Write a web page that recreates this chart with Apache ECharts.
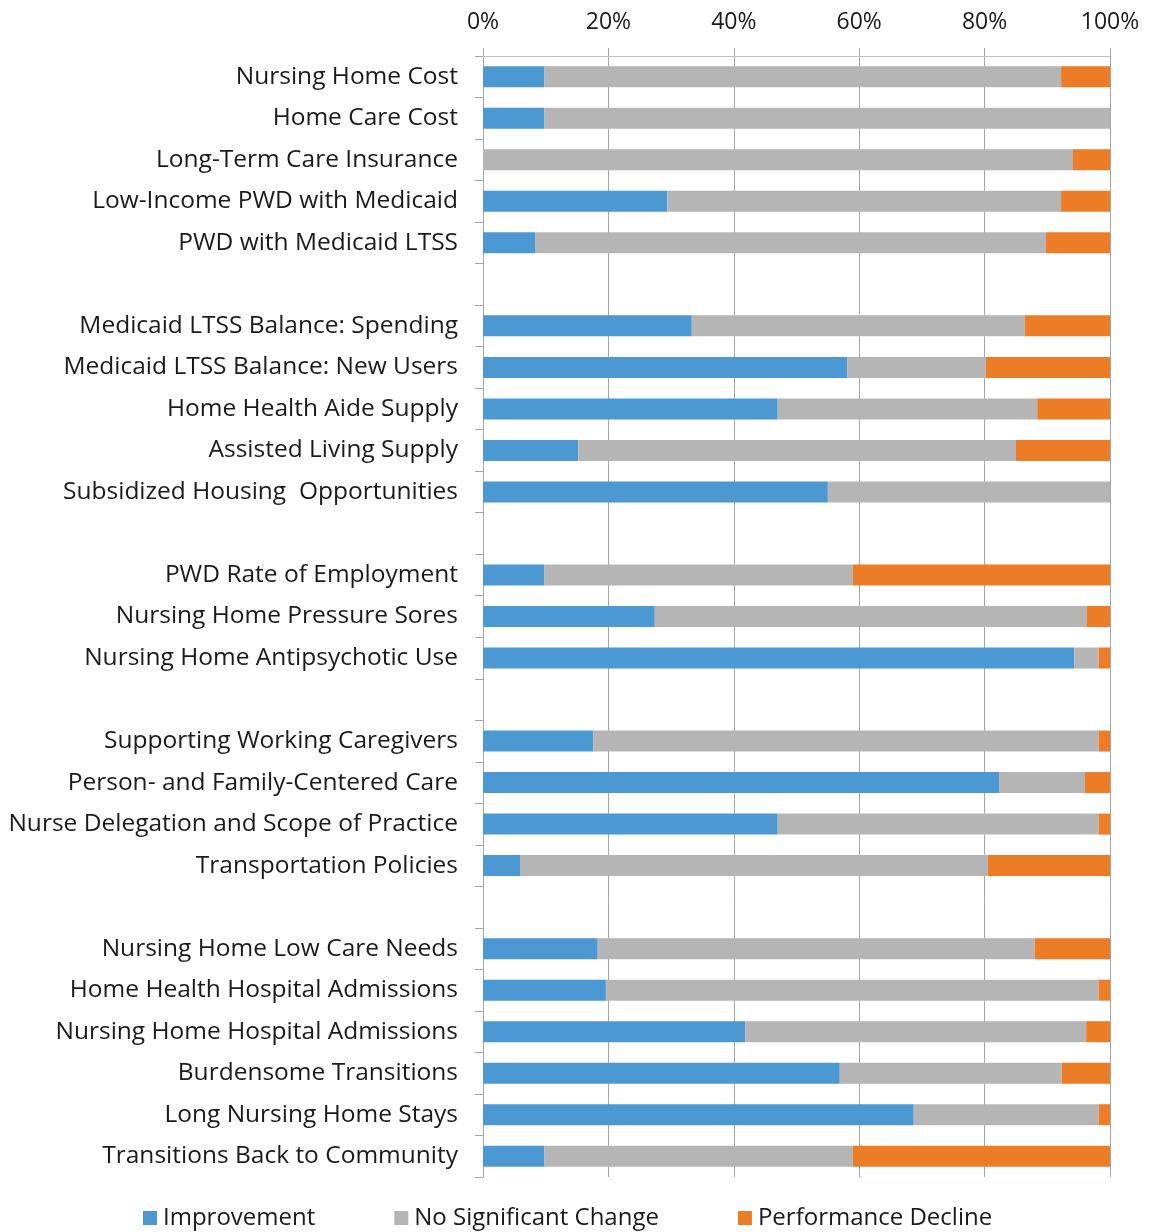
<!DOCTYPE html>
<html>
<head>
<meta charset="utf-8">
<script src="https://cdn.jsdelivr.net/npm/echarts@6/dist/echarts.min.js"></script>
<style>
html,body{margin:0;padding:0;background:#fff;}
#chart{width:1151px;height:1232px;}
</style>
</head>
<body>
<div id="chart"></div>
<script>
const categories = [
  'Nursing Home Cost','Home Care Cost','Long-Term Care Insurance','Low-Income PWD with Medicaid','PWD with Medicaid LTSS',
  ' ',
  'Medicaid LTSS Balance: Spending','Medicaid LTSS Balance: New Users','Home Health Aide Supply','Assisted Living Supply','Subsidized Housing  Opportunities',
  '  ',
  'PWD Rate of Employment','Nursing Home Pressure Sores','Nursing Home Antipsychotic Use',
  '   ',
  'Supporting Working Caregivers','Person- and Family-Centered Care','Nurse Delegation and Scope of Practice','Transportation Policies',
  '    ',
  'Nursing Home Low Care Needs','Home Health Hospital Admissions','Nursing Home Hospital Admissions','Burdensome Transitions','Long Nursing Home Stays','Transitions Back to Community'
];
const improvement = [9.8, 9.8, 0, 29.4, 8.3, null, 33.3, 58.1, 47.0, 15.2, 55.0, null, 9.8, 27.4, 94.3, null, 17.6, 82.3, 47.0, 5.9, null, 18.3, 19.6, 41.8, 56.9, 68.7, 9.8];
const noChange    = [82.4, 90.2, 94.1, 62.8, 81.5, null, 53.1, 22.1, 41.4, 69.8, 45.0, null, 49.2, 68.9, 3.9, null, 80.6, 13.7, 51.2, 74.6, null, 69.7, 78.6, 54.4, 35.4, 29.5, 49.2];
const decline     = [7.8, 0, 5.9, 7.8, 10.2, null, 13.6, 19.8, 11.6, 15.0, 0, null, 41.0, 3.7, 1.8, null, 1.8, 4.0, 1.8, 19.5, null, 12.0, 1.8, 3.8, 7.7, 1.8, 41.0];
const xTicks = [0, 20, 40, 60, 80, 100];
const seriesNames = ['Improvement', 'No Significant Change', 'Performance Decline'];
const colors = ['#4c98d2', '#b4b5b4', '#ed7c27'];

const FONT = 'Open Sans';
const chart = echarts.init(document.getElementById('chart'), null, {renderer: 'canvas'});
const mk = (name, data, color) => ({
  name, type: 'bar', stack: 'total', data, barWidth: 21,
  itemStyle: {color}, emphasis: {disabled: true}, animation: false
});
chart.setOption({
  animation: false,
  textStyle: {fontFamily: FONT},
  grid: {left: 483, right: 41, top: 56, bottom: 55, containLabel: false},
  legend: {
    data: seriesNames, left: 143, top: 1206, padding: 0, itemWidth: 14, itemHeight: 14, itemGap: 79,
    icon: 'rect', textStyle: {fontFamily: FONT, fontSize: 24, color: '#1a1a1a', padding: [0,0,0,1]}
  },
  xAxis: {
    type: 'value', position: 'top', min: 0, max: 100, interval: 20,
    axisLabel: {formatter: v => xTicks.includes(v) ? v + '%' : '', fontSize: 23, color: '#1a1a1a', margin: 22, fontFamily: FONT},
    axisLine: {show: true, lineStyle: {color: '#c0c0c0', width: 1}},
    axisTick: {show: true, length: 8, lineStyle: {color: '#a6a6a6'}},
    splitLine: {show: true, lineStyle: {color: '#a6a6a6', width: 1}}
  },
  yAxis: {
    type: 'category', data: categories, inverse: true,
    axisLine: {show: true, lineStyle: {color: '#a6a6a6'}},
    axisTick: {show: true, length: 8, interval: 0, lineStyle: {color: '#a6a6a6'}},
    axisLabel: {interval: 0, fontSize: 24.5, color: '#1a1a1a', margin: 25, fontFamily: FONT}
  },
  series: [
    mk(seriesNames[0], improvement, colors[0]),
    mk(seriesNames[1], noChange, colors[1]),
    mk(seriesNames[2], decline, colors[2])
  ]
});
</script>
</body>
</html>
